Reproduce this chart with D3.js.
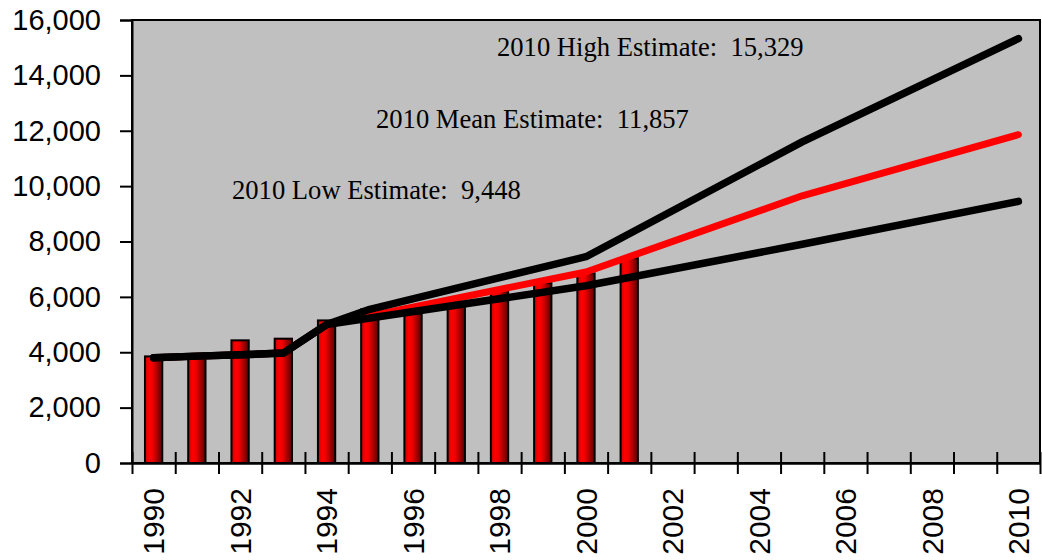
<!DOCTYPE html>
<html>
<head>
<meta charset="utf-8">
<script src="https://cdn.jsdelivr.net/npm/d3@7"></script>
<style>
  body { margin: 0; background: #fff; }
  .tick text { font-family: "Liberation Sans", Arial, sans-serif; fill: #000; }
  .note { font-family: "Liberation Serif", "Times New Roman", serif; font-size: 26.6px; white-space: pre; fill: #000; }
</style>
</head>
<body>
<div id="chart"></div>
<script>
// categories and tick labels
var years = [1990, 1991, 1992, 1993, 1994, 1995, 1996, 1997, 1998, 1999, 2000,
             2001, 2002, 2003, 2004, 2005, 2006, 2007, 2008, 2009, 2010];
var labelYears = [1990, 1992, 1994, 1996, 1998, 2000, 2002, 2004, 2006, 2008, 2010];
var yTicks = [0, 2000, 4000, 6000, 8000, 10000, 12000, 14000, 16000];

// actual counts (bars)
var barYears = [1990, 1991, 1992, 1993, 1994, 1995, 1996, 1997, 1998, 1999, 2000, 2001];
var barValues = [3850, 3800, 4430, 4490, 5150, 5550, 5400, 5650, 6200, 6500, 6850, 7400];

// projections (lines)
var lowYears = [1990, 1991, 1992, 1993, 1994, 2000, 2005, 2010];
var lowValues = [3800, 3860, 3910, 3970, 5000, 6400, 7900, 9448];
var meanYears = [1990, 1991, 1992, 1993, 1994, 2000, 2005, 2010];
var meanValues = [3800, 3860, 3910, 3970, 5000, 6900, 9650, 11857];
var highYears = [1990, 1991, 1992, 1993, 1994, 1995, 2000, 2005, 2010];
var highValues = [3800, 3860, 3910, 3970, 5000, 5550, 7450, 11600, 15329];

var notes = [
  {text: "2010 High Estimate:  15,329", x: 497, y: 56},
  {text: "2010 Mean Estimate:  11,857", x: 376, y: 128},
  {text: "2010 Low Estimate:  9,448", x: 232, y: 199}
];

var svgWidth = 1042;
var svgHeight = 560;
var margin = {top: 20, right: 2, bottom: 97, left: 132};
var width = svgWidth - margin.left - margin.right;
var height = svgHeight - margin.top - margin.bottom;

var svg = d3.select("#chart")
  .append("svg")
  .attr("width", svgWidth)
  .attr("height", svgHeight);

// bar gradient, bright on the left, dark on the right
var grad = svg.append("defs").append("linearGradient")
  .attr("id", "barGrad")
  .attr("x1", "0%").attr("x2", "100%").attr("y1", "0%").attr("y2", "0%");
grad.append("stop").attr("offset", "0%").attr("stop-color", "#c80000");
grad.append("stop").attr("offset", "25%").attr("stop-color", "#ff0000");
grad.append("stop").attr("offset", "45%").attr("stop-color", "#ee0000");
grad.append("stop").attr("offset", "100%").attr("stop-color", "#580000");

var chartGroup = svg.append("g")
  .attr("transform", `translate(${margin.left}, ${margin.top})`);

var xScale = d3.scaleLinear()
  .domain([years[0] - 0.5, years[years.length - 1] + 0.5])
  .range([0, width]);

var yScale = d3.scaleLinear()
  .domain([0, 16000])
  .range([height, 0]);

// plot area
chartGroup.append("rect")
  .attr("width", width)
  .attr("height", height)
  .attr("fill", "#c0c0c0")
  .attr("stroke", "#000")
  .attr("stroke-width", 2);

// bars
var barW = (xScale(1) - xScale(0)) * 0.4;
chartGroup.selectAll(".bar")
  .data(barYears)
  .enter()
  .append("rect")
  .attr("class", "bar")
  .attr("x", (d, i) => xScale(d) - barW / 2)
  .attr("y", (d, i) => yScale(barValues[i]))
  .attr("width", barW)
  .attr("height", (d, i) => height - yScale(barValues[i]))
  .attr("fill", "url(#barGrad)")
  .attr("stroke", "#000")
  .attr("stroke-width", 2);

// lines
var line = d3.line()
  .x(d => xScale(d[0]))
  .y(d => yScale(d[1]));

function drawLine(xs, vs, color, w) {
  chartGroup.append("path")
    .datum(xs.map((d, i) => [d, vs[i]]))
    .attr("d", line)
    .attr("fill", "none")
    .attr("stroke", color)
    .attr("stroke-width", w)
    .attr("stroke-linecap", "round")
    .attr("stroke-linejoin", "round");
}
drawLine(meanYears, meanValues, "#ff0000", 7);
drawLine(highYears, highValues, "#000", 7.5);
drawLine(lowYears, lowValues, "#000", 7.5);

// notes
chartGroup.selectAll(".note")
  .data(notes)
  .enter()
  .append("text")
  .attr("class", "note")
  .attr("x", d => d.x - margin.left)
  .attr("y", d => d.y - margin.top)
  .text(d => d.text);

// y axis
var yAxis = chartGroup.append("g")
  .call(d3.axisLeft(yScale).tickValues(yTicks).tickFormat(d3.format(",")).tickSize(12).tickPadding(19));
yAxis.selectAll("text").attr("font-size", 29);
yAxis.selectAll("line, path").attr("stroke", "#000").attr("stroke-width", 2);

// x axis: ticks at category boundaries, crossing the axis
var bounds = years.map(d => d - 0.5).concat([years[years.length - 1] + 0.5]);
var xAxis = chartGroup.append("g")
  .attr("transform", `translate(0, ${height})`)
  .call(d3.axisBottom(xScale).tickValues(bounds).tickSize(11).tickSizeOuter(0).tickFormat(""));
xAxis.selectAll("line").attr("y1", -11).attr("stroke", "#000").attr("stroke-width", 2);
xAxis.select("path").attr("stroke", "#000").attr("stroke-width", 2.5);

// year labels, rotated
chartGroup.selectAll(".yearLabel")
  .data(labelYears)
  .enter()
  .append("text")
  .attr("class", "yearLabel")
  .attr("transform", d => `translate(${xScale(d)}, ${height + 25}) rotate(-90)`)
  .attr("dy", "0.36em")
  .attr("text-anchor", "end")
  .attr("font-family", "Liberation Sans, Arial, sans-serif")
  .attr("font-size", 30)
  .text(d => d);
</script>
</body>
</html>
